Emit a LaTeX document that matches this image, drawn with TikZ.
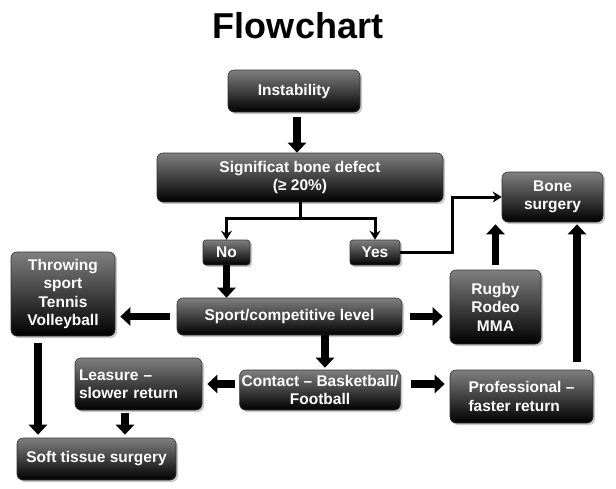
\documentclass[tikz,border=0pt]{standalone}
\usepackage{fontspec}
\setmainfont{Liberation Sans}
\usetikzlibrary{arrows.meta,shadows,calc}
\tikzset{
  box/.style={rounded corners=6pt, draw=black!80, line width=0.6pt,
    top color=black!50, bottom color=black, text=white,
    font=\fontsize{15.5}{18.5}\selectfont\bfseries, align=center,
    inner sep=2pt, drop shadow={shadow xshift=2pt, shadow yshift=-2pt, opacity=0.35, fill=black!60}},
  bigarrow/.style={line width=7.5pt, -{Triangle[width=18pt,length=10pt]}},
  thinarrow/.style={line width=3pt, -{Stealth[width=11pt,length=9pt,inset=3pt]}},
  thinline/.style={line width=3pt}
}
\begin{document}
\begin{tikzpicture}[x=1pt,y=-1pt]
\useasboundingbox (0,0) rectangle (616,488);
\node[font=\fontsize{36}{40}\selectfont\bfseries] (title) at (298,26) {Flowchart};
\node[box, minimum width=132, minimum height=42] (inst) at (294,91) {Instability};
\node[box, minimum width=286, minimum height=49] (defect) at (300,177.5) {Significat bone defect\\(≥ 20\%)};
\node[box, minimum width=47, minimum height=25, rounded corners=3pt] (no) at (226.5,252.5) {No};
\node[box, minimum width=50, minimum height=25, rounded corners=3pt] (yes) at (375,252.5) {Yes};
\node[box, minimum width=101, minimum height=50] (bone) at (552.5,197) {Bone\\surgery};
\node[box, minimum width=104, minimum height=84] (throw) at (63,294) {Throwing\\sport\\Tennis\\Volleyball};
\node[box, minimum width=225, minimum height=37] (sport) at (289.5,316.5) {Sport/competitive level};
\node[box, minimum width=91, minimum height=74] (rugby) at (495.5,307) {Rugby\\Rodeo\\MMA};
\node[box, text width=119, minimum height=52, align=left, inner xsep=4pt] (leas) at (138.5,384) {Leasure --\\slower return};
\node[box, minimum width=160, minimum height=40] (contact) at (320,390) {Contact -- Basketball/\\Football};
\node[box, minimum width=143, minimum height=53, align=left] (prof) at (521.5,396.5) {Professional --\\faster return};
\node[box, minimum width=159, minimum height=42] (soft) at (96.5,459) {Soft tissue surgery};

\coordinate (ia) at ([xshift=3]inst.south);
\draw[bigarrow, shorten <=5pt] (ia) -- (ia |- defect.north);
\coordinate (split) at ($(defect.south)+(0,16)$);
\draw[thinline] (defect.south) -- (split);
\draw[thinarrow] (split) -| (no.north);
\draw[thinarrow] (split) -| (yes.north);
\coordinate (yesbend) at ($(yes.east)+(52,0)$);
\draw[thinarrow] (yes.east) -- (yesbend) |- (bone.west);
\draw[bigarrow] (no.south) -- (no.south |- sport.north);
\draw[bigarrow, shorten <=7pt, shorten >=5pt] (sport.west) -- (throw.east |- sport.west);
\draw[bigarrow, shorten <=8pt, shorten >=7pt] (sport.east) -- (rugby.west |- sport.east);
\draw[bigarrow, shorten <=5pt, shorten >=2pt] (rugby.north) -- (rugby.north |- bone.south);
\coordinate (sc) at ([xshift=35.5]sport.south);
\draw[bigarrow, shorten >=2pt] (sc) -- (sc |- contact.north);
\draw[bigarrow, shorten <=4pt, shorten >=5pt] (contact.west |- leas.east) -- (leas.east);
\draw[bigarrow, shorten <=10pt, shorten >=5pt] (contact.east |- leas.east) -- (prof.west |- leas.east);
\coordinate (pb) at ([xshift=55.5]prof.north);
\draw[bigarrow, shorten <=8pt, shorten >=2pt] (pb) -- (pb |- bone.south);
\coordinate (ts) at ([xshift=-25]throw.south);
\draw[bigarrow, shorten <=7pt, shorten >=3pt] (ts) -- (ts |- soft.north);
\coordinate (ls) at ([xshift=-13.5]leas.south);
\draw[bigarrow, shorten <=3pt, shorten >=3pt] (ls) -- (ls |- soft.north);
\end{tikzpicture}
\end{document}
